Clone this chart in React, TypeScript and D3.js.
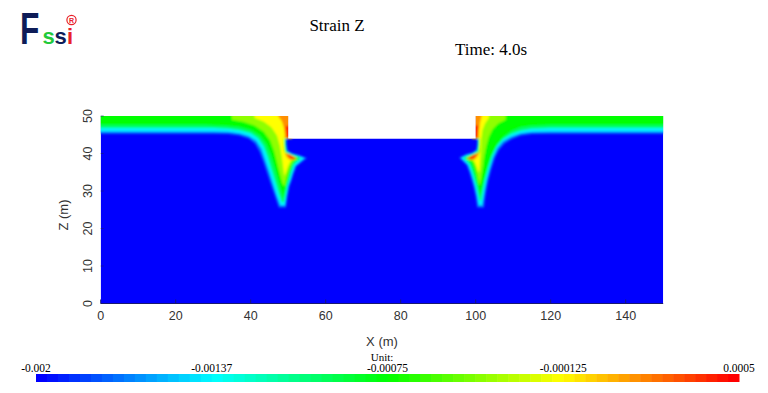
import React from 'react';
import * as d3 from 'd3';

type Pt = [number, number];

// model domain (x, z in metres) with the excavation cut between the walls
const domain: Pt[] = [[0, 0], [150, 0], [150, 50], [100, 50], [100, 44], [50, 44], [50, 50], [0, 50]];

// colour bar
const barStops = [-0.002, -0.001375, -0.00075, -0.000125, 0.0005];
const barColors = ['#0000ff', '#00ffff', '#00ff00', '#ffff00', '#ff0000'];
const barLabels = ['-0.002', '-0.00137', '-0.00075', '-0.000125', '0.0005'];
const barSteps = 64;

const xTicks = [0, 20, 40, 60, 80, 100, 120, 140];
const zTicks = [0, 10, 20, 30, 40, 50];

// strain contours, left wall (outer -> inner)
const left1: Pt[] = [[-2, 52], [-2, 45.3], [30, 45.3], [34, 45.2], [37, 44.8], [39.5, 44], [41.2, 42.6], [42.4, 40.5], [43.4, 37.8], [44.5, 34.5], [45.6, 31.2], [46.6, 28.3], [47.5, 25.6], [49.4, 25.6], [49.8, 28.5], [50.3, 31.2], [50.9, 32.8], [51.4, 34.5], [52.2, 36.6], [55, 38.8], [52.8, 39.6], [51, 40.1], [49.8, 40.8], [49.55, 42.5], [49.55, 44], [51, 44], [51, 52]];
const left2: Pt[] = [[-2, 52], [-2, 45.9], [30, 45.9], [34, 45.8], [37, 45.4], [39.5, 44.7], [41.5, 43.4], [42.9, 41.2], [43.9, 38.3], [45, 35], [46, 31.8], [47, 28.7], [47.9, 26.2], [49.1, 26.2], [49.5, 28.6], [50, 31.3], [50.6, 33], [51.1, 34.7], [51.8, 36.7], [54.3, 38.8], [52.5, 39.5], [50.8, 40], [49.65, 40.7], [49.4, 42.5], [49.4, 44], [51, 44], [51, 52]];
const left3: Pt[] = [[-2, 52], [-2, 46.8], [30, 46.8], [34, 46.6], [37, 46.2], [40, 45.4], [42, 44], [43.5, 41.8], [44.6, 38.8], [45.6, 35.5], [46.6, 32.3], [47.5, 29.3], [48.3, 27], [48.9, 27], [49.3, 29], [49.8, 31.5], [50.3, 33.2], [50.8, 35], [51.5, 37], [53.4, 38.8], [52, 39.4], [50.6, 39.9], [49.5, 40.6], [49.25, 42.5], [49.25, 44], [51, 44], [51, 52]];
const left4: Pt[] = [[-2, 52], [-2, 47.6], [28, 47.6], [33, 47.4], [37, 47], [40, 46.2], [42.3, 44.8], [44.1, 42.5], [45.3, 39.5], [46.3, 36.3], [47.2, 33], [48, 30.2], [48.6, 28.3], [49.1, 30], [49.6, 32], [50.1, 33.6], [50.6, 35.4], [51.2, 37.2], [52.6, 38.8], [51.6, 39.3], [50.4, 39.8], [49.35, 40.5], [49.1, 42.5], [49.1, 44], [51, 44], [51, 52]];
const left5: Pt[] = [[35, 52], [35, 49], [38, 48.5], [41, 47.5], [43.5, 45.8], [45.2, 43.5], [46.3, 40.5], [47.1, 37.3], [47.8, 34.5], [48.5, 32], [49, 31.2], [49.4, 33], [49.9, 34.8], [50.4, 36.4], [51, 37.7], [51.9, 38.8], [51, 39.3], [50, 39.7], [49.2, 40.4], [48.95, 42.5], [48.95, 44], [51, 44], [51, 52]];
const left6: Pt[] = [[41, 52], [41, 49.5], [43.5, 48.5], [45.5, 47], [47, 44.8], [47.8, 42], [48.3, 39], [48.7, 36], [49, 34], [49.4, 35], [49.9, 36.5], [50.5, 37.8], [51.2, 38.7], [50.4, 39.2], [49.5, 39.8], [48.9, 40.6], [48.8, 42.5], [48.8, 44], [51, 44], [51, 52]];
const left7a: Pt[] = [[47.3, 52], [47.3, 50], [48.3, 48.6], [48.9, 46.8], [49.1, 45], [49.1, 44.1], [51, 44.1], [51, 52]];
const left7b: Pt[] = [[49.2, 40.2], [49.5, 39.2], [50.3, 38.4], [51.3, 38.3], [52.3, 38.7], [51.3, 39.3], [50.2, 39.8]];
const left8a: Pt[] = [[49.2, 47.3], [49.4, 45.5], [49.5, 44.2], [51, 44.2], [51, 47.6]];
const left8b: Pt[] = [[49.9, 39.8], [50.3, 39], [51, 38.5], [51.9, 38.7], [51, 39.3], [50.3, 39.8]];

// strain contours, right wall (outer -> inner)
const right1: Pt[] = [[152, 52], [152, 45.3], [120, 45.3], [115, 45.2], [112, 44.8], [109.6, 43.9], [107.6, 42.6], [106.2, 41], [105.1, 38.8], [104.2, 36], [103.4, 33], [102.8, 30], [102.4, 27.5], [102.2, 25.6], [100.4, 25.6], [100, 28.5], [99.5, 30.8], [98.9, 33], [98.3, 35], [97.6, 36.9], [95.6, 38.9], [97.4, 39.8], [99.1, 40.3], [100.2, 41], [100.4, 42.5], [100.4, 44], [99, 44], [99, 52]];
const right2: Pt[] = [[152, 52], [152, 45.9], [120, 45.9], [115, 45.8], [112, 45.4], [109.4, 44.5], [107.2, 43.2], [105.7, 41.4], [104.6, 39], [103.7, 36], [102.9, 33], [102.3, 30], [101.9, 27.5], [101.7, 26.2], [100.8, 26.2], [100.4, 28.6], [99.9, 31], [99.3, 33.2], [98.7, 35.2], [98, 37], [96.1, 38.9], [97.6, 39.6], [99.2, 40.1], [100.3, 40.8], [100.55, 42.5], [100.55, 44], [99, 44], [99, 52]];
const right3: Pt[] = [[152, 52], [152, 46.8], [120, 46.8], [115, 46.6], [112, 46.1], [109.5, 45.2], [107.2, 43.8], [105.5, 41.8], [104.3, 39.2], [103.3, 36], [102.5, 33], [101.9, 30], [101.5, 27.5], [101.1, 27.5], [100.7, 29], [100.2, 31.3], [99.6, 33.4], [99, 35.4], [98.4, 37.1], [96.8, 38.9], [98, 39.5], [99.4, 40], [100.45, 40.7], [100.7, 42.5], [100.7, 44], [99, 44], [99, 52]];
const right4: Pt[] = [[152, 52], [152, 47.6], [120, 47.6], [115, 47.4], [112, 47], [109.6, 46], [107.5, 44.5], [105.7, 42.2], [104.3, 39.5], [103.2, 36.3], [102.3, 33], [101.6, 30.3], [101.2, 28.8], [100.8, 30.5], [100.4, 32.3], [99.9, 34.2], [99.3, 36], [98.7, 37.4], [97.5, 38.9], [98.3, 39.4], [99.6, 39.9], [100.6, 40.6], [100.85, 42.5], [100.85, 44], [99, 44], [99, 52]];
const right5: Pt[] = [[108, 52], [108, 49], [106, 48], [104.5, 46.5], [103.5, 44.5], [102.8, 42], [102.2, 39], [101.8, 36], [101.4, 33.5], [101.1, 31.5], [100.8, 32.5], [100.4, 34.5], [99.9, 36.3], [99.4, 37.6], [98.4, 38.9], [99, 39.3], [99.9, 39.8], [100.8, 40.5], [101, 42.5], [101, 44], [99, 44], [99, 52]];
const right6: Pt[] = [[103.5, 52], [103.5, 49.5], [102.5, 48], [101.8, 46.2], [101.5, 44], [101.4, 41.5], [101.2, 38.5], [101, 35.5], [100.7, 35], [100.3, 36.4], [99.8, 37.6], [99.1, 38.7], [99.7, 39.2], [100.5, 39.7], [101.15, 40.5], [101.15, 44], [99, 44], [99, 52]];
const right7a: Pt[] = [[101.6, 52], [101.6, 50], [101.2, 48.5], [100.9, 46.5], [100.8, 44.1], [99, 44.1], [99, 52]];
const right7b: Pt[] = [[100.9, 40.3], [100.5, 39.3], [99.7, 38.4], [98.7, 38.3], [97.6, 38.7], [98.6, 39.3], [99.8, 39.8]];
const right8a: Pt[] = [[100.8, 47.4], [100.6, 45.5], [100.5, 44.2], [99, 44.2], [99, 47.6]];
const right8b: Pt[] = [[100.1, 39.9], [99.7, 39], [99, 38.5], [98.1, 38.7], [98.9, 39.3], [99.7, 39.8]];

const levelValues = [-0.0017, -0.0014, -0.001, -0.00075, -0.0004, -0.000125, 0.00015, 0.0004];
const levelShapes: Pt[][][] = [
  [left1, right1],
  [left2, right2],
  [left3, right3],
  [left4, right4],
  [left5, right5],
  [left6, right6],
  [left7a, left7b, right7a, right7b],
  [left8a, left8b, right8a, right8b],
];

const W = 768;
const H = 393;

export default function App() {
  const x = d3.scaleLinear().domain([0, 150]).range([100.7, 663.2]);
  const z = d3.scaleLinear().domain([0, 50]).range([303.5, 116]);
  const jet = d3.scaleLinear<string>().domain(barStops).range(barColors).clamp(true);

  const line = d3.line<Pt>().x((d) => x(d[0])).y((d) => z(d[1]));
  const poly = (pts: Pt[]) => line(pts) + 'Z';

  const barX = d3.scaleLinear().domain([0, barStops.length - 1]).range([36, 739]);
  const stepW = (barX.range()[1] - barX.range()[0]) / barSteps;
  const stepT = d3.scaleLinear().domain([0, barSteps - 1]).range([barStops[0], barStops[barStops.length - 1]]);

  const axisFont = 'Liberation Sans, Arial, sans-serif';
  const serif = 'Liberation Serif, Times New Roman, serif';

  return (
    <svg width={W} height={H} style={{ position: 'absolute', left: 0, top: 0, background: '#fff' }}>
      <defs>
        <clipPath id="dom">
          <path d={poly(domain)} />
        </clipPath>
        <filter id="soft" x="-5%" y="-5%" width="110%" height="110%">
          <feGaussianBlur stdDeviation="1.3" />
        </filter>
      </defs>

      {/* logo */}
      <g fontFamily={axisFont} fontWeight="bold">
        <text x={0} y={0} fontSize={44} fill="#0e1c57" transform="translate(20,44) scale(0.72,1)">F</text>
        <text x={42.5} y={43.5} fontSize={22} fill="#22c93a">s</text>
        <text x={54.5} y={43.5} fontSize={22} fill="#0e1c57">s</text>
        <text x={67} y={43.5} fontSize={22} fill="#e8202a">i</text>
        <circle cx={71.5} cy={20} r={4.6} fill="none" stroke="#e8202a" strokeWidth={1.2} />
        <text x={71.5} y={23} fontSize={7} fill="#e8202a" textAnchor="middle">R</text>
      </g>

      {/* titles */}
      <text x={337} y={31} fontSize={17} fontFamily={serif} textAnchor="middle" fill="#000">Strain Z</text>
      <text x={491} y={55} fontSize={17} fontFamily={serif} textAnchor="middle" fill="#000">Time: 4.0s</text>

      {/* strain field */}
      <g clipPath="url(#dom)">
        <path d={poly(domain)} fill={jet(-0.002)} />
        <g filter="url(#soft)">
          {levelShapes.map((shapes, i) =>
            shapes.map((pts, j) => <path key={`${i}-${j}`} d={poly(pts)} fill={jet(levelValues[i])} />)
          )}
        </g>
      </g>

      {/* axes */}
      <line x1={x(0)} x2={x(150)} y1={z(0)} y2={z(0)} stroke="#1a1a70" strokeWidth={1} />
      {xTicks.map((t) => (
        <g key={t}>
          <line x1={x(t)} x2={x(t)} y1={z(0)} y2={z(0) - 4} stroke="#1a1a70" strokeWidth={1} />
          <text x={x(t)} y={320} fontSize={12.5} fontFamily={axisFont} fill="#333" textAnchor="middle">{t}</text>
        </g>
      ))}
      {zTicks.map((t) => (
        <g key={t}>
          <line x1={x(0)} x2={x(0) + 3} y1={z(t)} y2={z(t)} stroke="#1a1a70" strokeWidth={1} opacity={0.6} />
          <text transform={`translate(91.5,${z(t)}) rotate(-90)`} fontSize={12.5} fontFamily={axisFont} fill="#333" textAnchor="middle">{t}</text>
        </g>
      ))}
      <text x={382} y={346} fontSize={13} fontFamily={axisFont} fill="#333" textAnchor="middle">X (m)</text>
      <text transform="translate(68,215) rotate(-90)" fontSize={13} fontFamily={axisFont} fill="#333" textAnchor="middle">Z (m)</text>

      {/* colour bar */}
      {d3.range(barSteps).map((i) => (
        <rect key={i} x={barX.range()[0] + i * stepW} y={374} width={stepW + 0.5} height={8} fill={jet(stepT(i))} />
      ))}
      {barLabels.map((l, i) => (
        <text key={l} x={barX(i)} y={371.5} fontSize={11.5} fontFamily={serif} fill="#000" textAnchor="middle">{l}</text>
      ))}
      <text x={382} y={361} fontSize={11} fontFamily={serif} fill="#000" textAnchor="middle">Unit:</text>
    </svg>
  );
}
